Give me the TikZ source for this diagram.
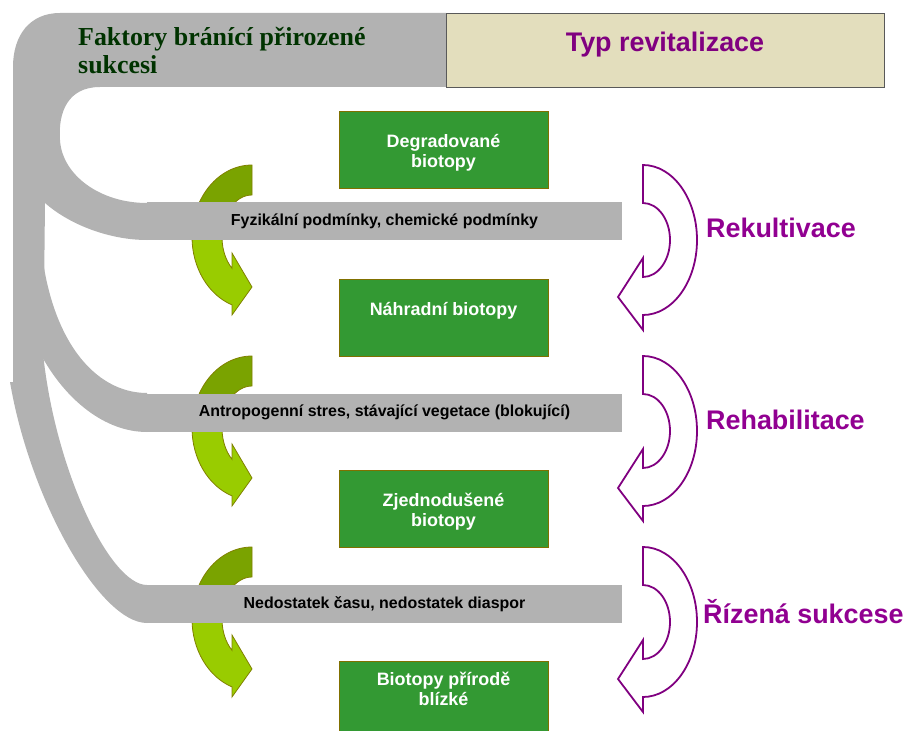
\documentclass[tikz,border=0pt]{standalone}
\usepackage{fontspec}
\setmainfont{Liberation Serif}
\setsansfont{Liberation Sans}

\definecolor{barshade}{RGB}{178,178,178}
\definecolor{headbeige}{RGB}{227,222,189}
\definecolor{boxgreen}{RGB}{51,153,51}
\definecolor{boxedge}{RGB}{128,112,0}
\definecolor{darkleaf}{RGB}{122,163,0}
\definecolor{lightleaf}{RGB}{153,204,0}
\definecolor{leafedge}{RGB}{128,128,0}
\definecolor{revpurple}{RGB}{128,0,128}
\definecolor{labelpurple}{RGB}{145,0,145}
\definecolor{headgreen}{RGB}{0,51,0}

% curved green arrow of one step (dark top half, light bottom half)
\newcommand{\greenbend}{%
	\filldraw[fill=darkleaf,draw=leafedge,line width=0.8]
	(252,165) .. controls (218.9,165) and (192,197.2) .. (192,237)
	-- (222,237) .. controls (222,213.8) and (235.4,195) .. (252,195) -- cycle;
	\filldraw[fill=lightleaf,draw=leafedge,line width=0.8]
	(192,237) .. controls (192,267.5) and (208.1,294.8) .. (232,304.9)
	-- (232,315) -- (252,287) -- (232,253) -- (232,268.3)
	.. controls (225.6,260.3) and (222,249) .. (222,237) -- cycle;
}
% curved purple arrow of one step (outline only)
\newcommand{\purplebend}{%
	\filldraw[fill=white,draw=revpurple,line width=1.8]
	(643,165) .. controls (672.8,165) and (697,198.6) .. (697,240)
	.. controls (697,281.4) and (672.8,315) .. (643,315)
	-- (643,330) -- (618,297) -- (643,258) -- (643,277)
	.. controls (657.9,277) and (670,260.4) .. (670,240)
	.. controls (670,219.6) and (657.9,203) .. (643,203) -- cycle;
}

\begin{document}
\begin{tikzpicture}[x=1bp,y=-1bp,font=\sffamily\bfseries]
	
	% Styles for bars, boxes and labels
	\tikzset{
		factorbar/.style={rectangle,fill=barshade,inner sep=0,minimum width=475bp,minimum height=38bp,
			font=\sffamily\bfseries\fontsize{16}{18}\selectfont},
		biobox/.style={rectangle,fill=boxgreen,draw=boxedge,line width=0.8,minimum width=209bp,minimum height=77bp},
		biotext/.style={text=white,align=center,inner sep=0,font=\sffamily\bfseries\fontsize{18}{20}\selectfont},
		revlabel/.style={anchor=base west,inner sep=0,text=labelpurple,font=\sffamily\bfseries\fontsize{27}{30}\selectfont}
	}
	
	\useasboundingbox (0,0) rectangle (909,731);
	
	%========================================
	% Gray band: header, left side and the three branches
	%========================================
	\fill[barshade] (446,13) -- (60,13) .. controls (30,13) and (13,35) .. (13,67)
	-- (13,390) -- (43,390) -- (45,203)
	.. controls (70,225) and (110,240) .. (147,240) -- (147,203)
	.. controls (100,203) and (62,175) .. (60,140)
	.. controls (58,112) and (68,87) .. (100,87) -- (446,87) -- cycle;
	\fill[barshade] (40,235) .. controls (48,340) and (95,393) .. (147,393)
	-- (147,432) .. controls (105,432) and (65,400) .. (40,353) -- cycle;
	\fill[barshade] (13,353) -- (43,353) .. controls (55,470) and (110,585) .. (147,585)
	-- (147,623) .. controls (100,623) and (30,500) .. (10,382) -- (13,382) -- cycle;
	
	% Header texts
	\node[anchor=base west,inner sep=0,align=left,text=headgreen,
	font=\rmfamily\bfseries\fontsize{26}{29}\selectfont] (faktory) at (78,74)
	{Faktory bránící přirozené\\sukcesi};
	\node[rectangle,fill=headbeige,draw=gray!70!black,line width=0.5,minimum width=438bp,
	minimum height=74bp,inner sep=0] (typbox) at (665,50) {};
	\node[anchor=base,inner sep=0,text=revpurple,
	font=\sffamily\bfseries\fontsize{27}{30}\selectfont] (typ) at (665,52) {Typ revitalizace};
	
	%========================================
	% Green arrows (left) and purple arrows (right), one per step
	%========================================
	\begin{scope}[shift={(0,0)}]
		\greenbend
		\purplebend
	\end{scope}
	\begin{scope}[shift={(0,191)}]
		\greenbend
		\purplebend
	\end{scope}
	\begin{scope}[shift={(0,382)}]
		\greenbend
		\purplebend
	\end{scope}
	
	%========================================
	% Factor bars
	%========================================
	\node[factorbar] (fyz) at (384.5,221) {Fyzikální podmínky, chemické podmínky};
	\node[factorbar] (antro) at (384.5,412.5) {Antropogenní stres, stávající vegetace (blokující)};
	\node[factorbar] (nedost) at (384.5,604) {Nedostatek času, nedostatek diaspor};
	
	%========================================
	% Biotope boxes
	%========================================
	\node[biobox] (degr) at (443.5,149.5) {};
	\node[biotext] (degrtext) at (443.5,152.5) {Degradované\\biotopy};
	
	\node[biobox] (nahr) at (443.5,317.5) {};
	\node[biotext] (nahrtext) at (443.5,311) {Náhradní biotopy};
	
	\node[biobox] (zjed) at (443.5,508.5) {};
	\node[biotext] (zjedtext) at (443.5,511.5) {Zjednodušené\\biotopy};
	
	\node[biobox] (bliz) at (443.5,699.5) {};
	\node[biotext] (bliztext) at (443.5,689) {Biotopy přírodě\\blízké};
	
	%========================================
	% Types of revitalisation
	%========================================
	\node[revlabel] (rekult) at (706,237) {Rekultivace};
	\node[revlabel] (rehab) at (706,429) {Rehabilitace};
	\node[revlabel] (rizena) at (703,623) {Řízená sukcese};
	
\end{tikzpicture}
\end{document}
